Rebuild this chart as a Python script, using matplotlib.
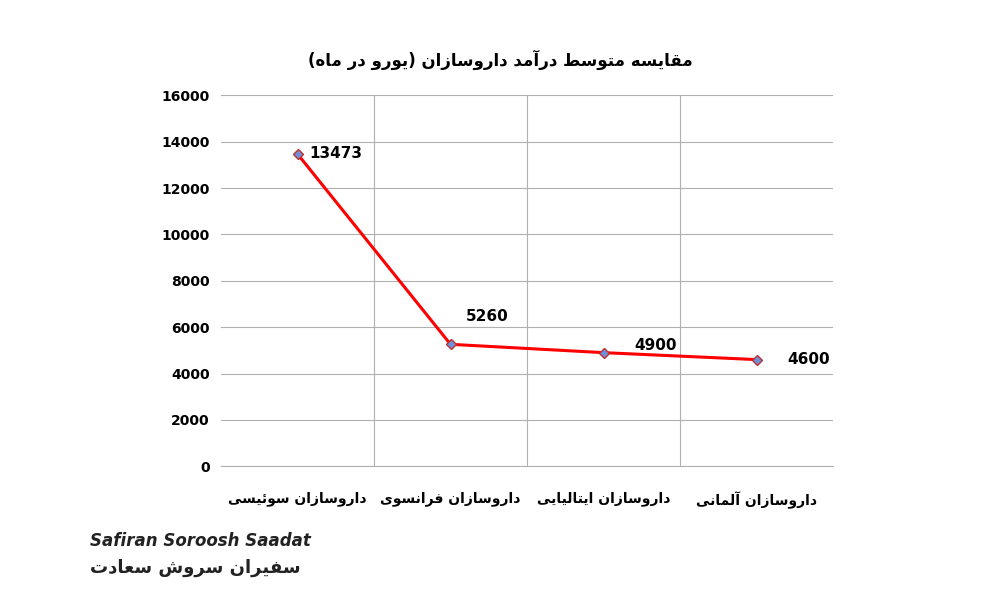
import matplotlib
matplotlib.use("Agg")
import matplotlib.pyplot as plt

# chart data
categories = ["داروسازان سوئیسی", "داروسازان فرانسوی", "داروسازان ایتالیایی", "داروسازان آلمانی"]
values = [13473, 5260, 4900, 4600]
y_ticks = [0, 2000, 4000, 6000, 8000, 10000, 12000, 14000, 16000]
title = "مقایسه متوسط درآمد داروسازان (یورو در ماه)"
logo_en = "Safiran Soroosh Saadat"
logo_fa = "سفیران سروش سعادت"

# minimal arabic shaping: (isolated, final, initial, medial)
FORMS = {
    "ا": (0xFE8D, 0xFE8E, None, None), "آ": (0xFE81, 0xFE82, None, None),
    "ت": (0xFE95, 0xFE96, 0xFE97, 0xFE98), "د": (0xFEA9, 0xFEAA, None, None),
    "ر": (0xFEAD, 0xFEAE, None, None), "ز": (0xFEAF, 0xFEB0, None, None),
    "س": (0xFEB1, 0xFEB2, 0xFEB3, 0xFEB4), "ط": (0xFEC1, 0xFEC2, 0xFEC3, 0xFEC4),
    "ع": (0xFEC9, 0xFECA, 0xFECB, 0xFECC), "ف": (0xFED1, 0xFED2, 0xFED3, 0xFED4),
    "ق": (0xFED5, 0xFED6, 0xFED7, 0xFED8), "ل": (0xFEDD, 0xFEDE, 0xFEDF, 0xFEE0),
    "م": (0xFEE1, 0xFEE2, 0xFEE3, 0xFEE4), "ن": (0xFEE5, 0xFEE6, 0xFEE7, 0xFEE8),
    "ه": (0xFEE9, 0xFEEA, 0xFEEB, 0xFEEC), "و": (0xFEED, 0xFEEE, None, None),
    "ئ": (0xFE89, 0xFE8A, 0xFE8B, 0xFE8C), "ی": (0xFBFC, 0xFBFD, 0xFBFE, 0xFBFF),
    "ش": (0xFEB5, 0xFEB6, 0xFEB7, 0xFEB8),
}


def shape(text):
    out = []
    n = len(text)
    for i, ch in enumerate(text):
        f = FORMS.get(ch)
        if f is None:
            out.append({"(": ")", ")": "("}.get(ch, ch))
            continue
        prev = text[i - 1] if i > 0 else None
        nxt = text[i + 1] if i < n - 1 else None
        join_prev = prev in FORMS and FORMS[prev][2] is not None
        join_next = nxt in FORMS and f[2] is not None
        if join_prev and join_next:
            cp = f[3]
        elif join_prev:
            cp = f[1]
        elif join_next:
            cp = f[2]
        else:
            cp = f[0]
        out.append(chr(cp))
    return "".join(reversed(out))


plt.rcParams["font.family"] = "DejaVu Sans"
fig = plt.figure(figsize=(10, 6), dpi=100)
ax = fig.add_axes([0.221, 0.223, 0.612, 0.618])

x = [i + 0.5 for i in range(len(values))]
ax.plot(x, values, color="#ff0000", lw=2.2, marker="D", ms=5,
        markerfacecolor="#6f8fd8", markeredgecolor="#c03030", zorder=3)
offsets = [(0.08, 0), (0.1, 1200), (0.2, 300), (0.2, 0)]
for xi, v, (dx, dy) in zip(x, values, offsets):
    ax.text(xi + dx, v + dy, str(v), fontsize=11, fontweight="bold", va="center", ha="left")

ax.set_xlim(0, 4)
ax.set_ylim(0, 16000)
ax.set_yticks(y_ticks)
ax.set_yticklabels([str(t) for t in y_ticks], fontsize=10, fontweight="bold")
ax.set_xticks(x)
ax.set_xticklabels([shape(c) for c in categories], fontsize=10, fontweight="bold")
ax.set_xticks([1, 2, 3], minor=True)
ax.tick_params(axis="x", which="both", length=0, pad=18)
ax.tick_params(axis="y", length=0, pad=8)
ax.grid(axis="y", color="#b0b0b0", lw=0.8)
ax.grid(axis="x", which="minor", color="#b0b0b0", lw=0.8)
for s in ["top", "right", "left"]:
    ax.spines[s].set_visible(False)
ax.spines["bottom"].set_color("#b0b0b0")
ax.set_axisbelow(True)

fig.text(0.5, 0.9, shape(title), ha="center", va="center", fontsize=12, fontweight="bold")
fig.text(0.09, 0.09, logo_en, fontsize=12, fontweight="bold", style="italic", color="#222222")
fig.text(0.09, 0.045, shape(logo_fa), fontsize=13, fontweight="bold", color="#222222")

fig.savefig("out.png", dpi=100, facecolor="white")
